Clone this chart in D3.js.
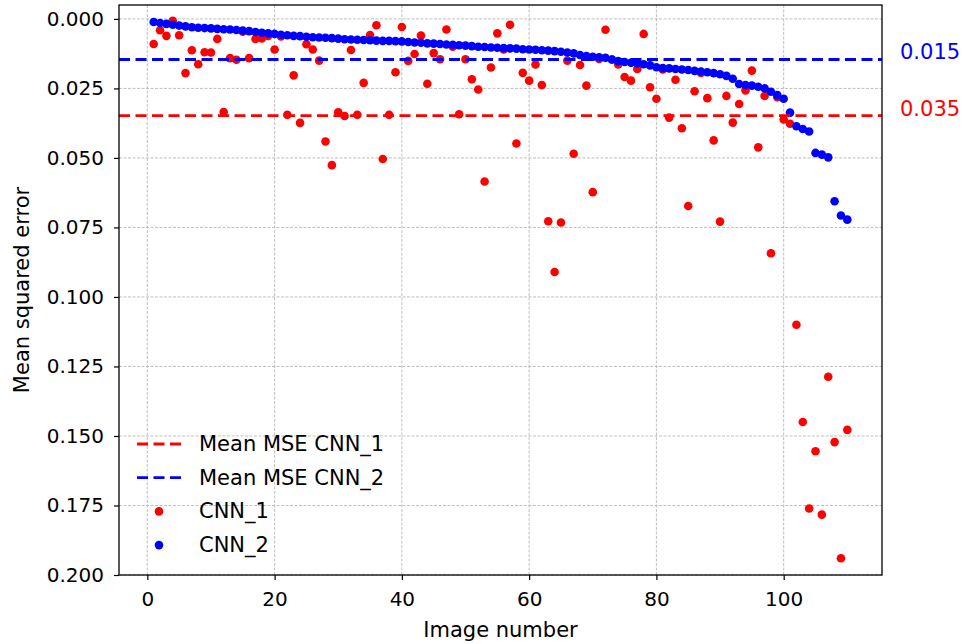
<!DOCTYPE html>
<html lang="en">
<head>
  <meta charset="UTF-8">
  <title>MSE per image</title>
  <script src="https://d3js.org/d3.v7.min.js"></script>
  <style>
    body {
      margin: 0;
      padding: 0;
      background-color: #fff;
      font-family: "DejaVu Sans", sans-serif;
    }
    .grid line {
      stroke: #b0b0b0;
      stroke-width: 0.8;
      stroke-dasharray: 3, 1.5;
    }
    .axis text {
      font-family: "DejaVu Sans", sans-serif;
      font-size: 20px;
      fill: #000;
    }
    .axis line { stroke: #000; stroke-width: 1.2; }
  </style>
</head>
<body>
  <svg id="chart"></svg>

  <script>
    // MSE per image, CNN_2 sorted ascending, CNN_1 in the same image order
    const cnn1 = [
      0.0090, 0.0041, 0.0061, 0.0007, 0.0059, 0.0195, 0.0113, 0.0163, 0.0120, 0.0121,
      0.0072, 0.0335, 0.0141, 0.0147, 0.0046, 0.0141, 0.0072, 0.0070, 0.0061, 0.0110,
      0.0063, 0.0345, 0.0203, 0.0374, 0.0091, 0.0110, 0.0150, 0.0441, 0.0526, 0.0336,
      0.0349, 0.0112, 0.0345, 0.0230, 0.0058, 0.0023, 0.0504, 0.0345, 0.0192, 0.0029,
      0.0151, 0.0126, 0.0060, 0.0233, 0.0123, 0.0145, 0.0038, 0.0100, 0.0343, 0.0145,
      0.0217, 0.0254, 0.0585, 0.0175, 0.0052, 0.0110, 0.0021, 0.0448, 0.0194, 0.0222,
      0.0164, 0.0238, 0.0728, 0.0910, 0.0732, 0.0150, 0.0485, 0.0166, 0.0240, 0.0623,
      0.0144, 0.0039, 0.0146, 0.0164, 0.0209, 0.0222, 0.0180, 0.0054, 0.0246, 0.0287,
      0.0182, 0.0355, 0.0219, 0.0393, 0.0673, 0.0260, 0.0194, 0.0285, 0.0437, 0.0729,
      0.0277, 0.0373, 0.0306, 0.0257, 0.0186, 0.0462, 0.0277, 0.0843, 0.0282, 0.0362,
      0.0377, 0.1100, 0.1450, 0.1761, 0.1555, 0.1783, 0.1287, 0.1522, 0.1940, 0.1478
    ];
    const cnn2 = [
      0.0011, 0.0015, 0.0018, 0.0021, 0.0024, 0.0027, 0.0030, 0.0032, 0.0033, 0.0034,
      0.0036, 0.0037, 0.0038, 0.0040, 0.0042, 0.0044, 0.0047, 0.0050, 0.0052, 0.0054,
      0.0057, 0.0059, 0.0061, 0.0062, 0.0064, 0.0066, 0.0067, 0.0068, 0.0069, 0.0071,
      0.0073, 0.0074, 0.0075, 0.0076, 0.0077, 0.0078, 0.0079, 0.0079, 0.0080, 0.0081,
      0.0083, 0.0085, 0.0086, 0.0088, 0.0089, 0.0090, 0.0092, 0.0093, 0.0095, 0.0096,
      0.0098, 0.0100, 0.0101, 0.0103, 0.0104, 0.0105, 0.0106, 0.0107, 0.0109, 0.0110,
      0.0111, 0.0113, 0.0114, 0.0116, 0.0118, 0.0121, 0.0124, 0.0130, 0.0134, 0.0136,
      0.0138, 0.0140, 0.0146, 0.0152, 0.0155, 0.0158, 0.0160, 0.0163, 0.0167, 0.0174,
      0.0177, 0.0178, 0.0180, 0.0182, 0.0184, 0.0187, 0.0189, 0.0192, 0.0195, 0.0199,
      0.0205, 0.0215, 0.0234, 0.0238, 0.0240, 0.0244, 0.0250, 0.0262, 0.0274, 0.0287,
      0.0337, 0.0386, 0.0396, 0.0405, 0.0482, 0.0488, 0.0498, 0.0656, 0.0707, 0.0722
    ];
    const meanCnn1 = 0.0348;
    const meanCnn2 = 0.0146;
    const xTicks = [0, 20, 40, 60, 80, 100];
    const yTicks = [0, 0.025, 0.05, 0.075, 0.1, 0.125, 0.15, 0.175, 0.2];

    const width = 964, height = 644;
    const margin = { top: 5, right: 82, bottom: 69, left: 119 };
    const innerW = width - margin.left - margin.right;
    const innerH = height - margin.top - margin.bottom;

    const svg = d3.select("#chart").attr("width", width).attr("height", height);
    const g = svg.append("g").attr("transform", `translate(${margin.left},${margin.top})`);

    // x margin like matplotlib (5% of data range)
    const n = cnn1.length;
    const pad = (n - 1) * 0.05;
    const x = d3.scaleLinear().domain([1 - pad, n + pad]).range([0, innerW]);
    // inverted y: 0 near top
    const y = d3.scaleLinear().domain([-0.005, 0.2]).range([0, innerH]);

    // grid
    g.append("g").attr("class", "grid")
      .selectAll("line").data(xTicks).join("line")
      .attr("x1", d => x(d)).attr("x2", d => x(d))
      .attr("y1", 0).attr("y2", innerH);
    g.append("g").attr("class", "grid")
      .selectAll("line").data(yTicks).join("line")
      .attr("x1", 0).attr("x2", innerW)
      .attr("y1", d => y(d)).attr("y2", d => y(d));

    // axes
    const xAxis = g.append("g").attr("class", "axis")
      .attr("transform", `translate(0,${innerH})`)
      .call(d3.axisBottom(x).tickValues(xTicks).tickSize(5).tickPadding(12).tickFormat(d3.format("d")));
    const yAxis = g.append("g").attr("class", "axis")
      .call(d3.axisLeft(y).tickValues(yTicks).tickSize(5).tickPadding(10).tickFormat(d3.format(".3f")));
    xAxis.select(".domain").remove();
    yAxis.select(".domain").remove();

    // points: CNN_1 first, CNN_2 on top
    g.append("g").selectAll("circle").data(cnn1).join("circle")
      .attr("cx", (d, i) => x(i + 1)).attr("cy", d => y(d))
      .attr("r", 4.3).attr("fill", "#ff0000");
    g.append("g").selectAll("circle").data(cnn2).join("circle")
      .attr("cx", (d, i) => x(i + 1)).attr("cy", d => y(d))
      .attr("r", 4.3).attr("fill", "#0000ff");

    // mean lines
    [[meanCnn1, "#ff0000"], [meanCnn2, "#0000ff"]].forEach(([m, c]) => {
      g.append("line")
        .attr("x1", 0).attr("x2", innerW)
        .attr("y1", y(m)).attr("y2", y(m))
        .attr("stroke", c).attr("stroke-width", 2.8)
        .attr("stroke-dasharray", "11,5.5");
      g.append("text")
        .attr("x", innerW + 18).attr("y", y(m) - 6)
        .attr("dominant-baseline", "middle")
        .attr("font-size", "21px").attr("fill", c)
        .text(m.toFixed(3));
    });

    // frame
    g.append("rect").attr("width", innerW).attr("height", innerH)
      .attr("fill", "none").attr("stroke", "#000").attr("stroke-width", 1.3);

    // axis labels
    svg.append("text")
      .attr("x", margin.left + innerW / 2).attr("y", 637)
      .attr("text-anchor", "middle").attr("font-size", "21px")
      .text("Image number");
    svg.append("text")
      .attr("transform", `translate(29,${margin.top + innerH / 2}) rotate(-90)`)
      .attr("text-anchor", "middle").attr("font-size", "21px")
      .text("Mean squared error");

    // legend
    const legend = [
      { label: "Mean MSE CNN_1", color: "#ff0000", type: "line" },
      { label: "Mean MSE CNN_2", color: "#0000ff", type: "line" },
      { label: "CNN_1", color: "#ff0000", type: "dot" },
      { label: "CNN_2", color: "#0000ff", type: "dot" }
    ];
    const lg = svg.append("g").attr("transform", "translate(137,444)");
    legend.forEach((d, i) => {
      const row = lg.append("g").attr("transform", `translate(0,${i * 33.7})`);
      if (d.type === "line") {
        row.append("line").attr("x1", 0).attr("x2", 44)
          .attr("stroke", d.color).attr("stroke-width", 2.8)
          .attr("stroke-dasharray", "11,5.5");
      } else {
        row.append("circle").attr("cx", 22).attr("r", 4.3).attr("fill", d.color);
      }
      row.append("text").attr("x", 62).attr("y", 0)
        .attr("dominant-baseline", "central")
        .attr("font-size", "21px").text(d.label);
    });
  </script>
</body>
</html>
